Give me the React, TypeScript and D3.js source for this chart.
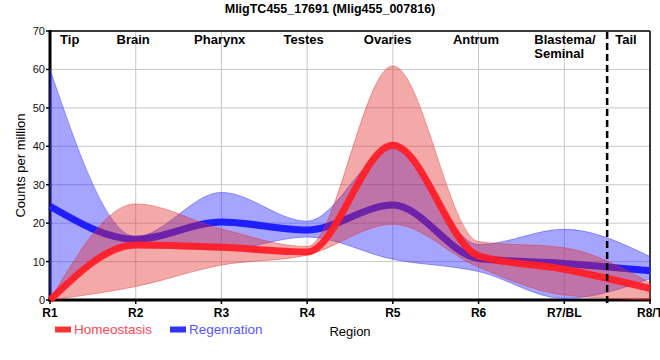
import React from 'react';
import * as d3 from 'd3';

// regions along the body axis
const regions = ['R1', 'R2', 'R3', 'R4', 'R5', 'R6', 'R7/BL', 'R8/T'];
const anatomy = ['Tip', 'Brain', 'Pharynx', 'Testes', 'Ovaries', 'Antrum', 'Blastema/|Seminal', 'Tail'];

// Homeostasis (counts per million)
const homeoMean = [0, 14.3, 13.7, 12.5, 40.3, 11.5, 8, 3];
const homeoLow = [0, 3.5, 9.1, 11.7, 19.7, 8.5, 1.3, 0];
const homeoHigh = [0, 25, 18.5, 13.9, 60.9, 15.2, 13.6, 4.5];

// Regenration (counts per million)
const regenMean = [24.4, 15.8, 20.3, 18.2, 24.7, 10.8, 9.5, 7.6];
const regenLow = [0, 14, 13, 16.4, 10.6, 7.4, 0.4, 5.5];
const regenHigh = [60, 16.5, 28, 20.5, 39.2, 14.4, 18.4, 11.3];

const yTicks = [0, 10, 20, 30, 40, 50, 60, 70];
const tailBoundary = 6.5;

const FONT = '"Liberation Sans", Arial, sans-serif';

export default function App() {
  const margin = { left: 50, right: 10, top: 31, bottom: 60 };
  const W = 660;
  const H = 360;

  const x = d3.scaleLinear().domain([0, regions.length - 1]).range([margin.left, W - margin.right]);
  const y = d3.scaleLinear().domain([0, 70]).range([H - margin.bottom, margin.top]);

  // label anchors, in region units
  const anatomyAt = [0.23, 0.97, 1.98, 2.96, 3.94, 4.97, 5.65, 6.72];

  const band = (lo: number[], hi: number[]) =>
    d3.area<number>()
      .x((_, i) => x(i))
      .y0((_, i) => y(lo[i]))
      .y1((_, i) => y(hi[i]))
      .curve(d3.curveMonotoneX)(lo) || '';

  const line = (vals: number[]) =>
    d3.line<number>()
      .x((_, i) => x(i))
      .y(d => y(d))
      .curve(d3.curveMonotoneX)(vals) || '';

  const x0 = x(0), x1 = x(regions.length - 1);
  const y0 = y(0), y1 = y(70);

  return (
    <svg width={W} height={H} style={{ position: 'absolute', left: 0, top: 0, background: '#fff' }} fontFamily={FONT}>
      <text x={330} y={13} textAnchor="middle" fontSize={12.5} fontWeight="bold">
        MligTC455_17691 (Mlig455_007816)
      </text>

      {/* grid */}
      {yTicks.slice(1).map(t => (
        <line key={'gy' + t} x1={x0} x2={x1} y1={y(t)} y2={y(t)} stroke="#c8c8c8" strokeWidth={1} />
      ))}
      {regions.map((r, i) => (
        <line key={'gx' + r} x1={x(i)} x2={x(i)} y1={y0} y2={y1} stroke="#c8c8c8" strokeWidth={1} />
      ))}

      {/* frame */}
      <line x1={x0} x2={x1} y1={y1} y2={y1} stroke="#000" strokeWidth={1.5} />
      <line x1={x1} x2={x1} y1={y1} y2={y0} stroke="#000" strokeWidth={1.5} />
      <line x1={x0} x2={x0} y1={y1 - 1} y2={y0 + 1.5} stroke="#000" strokeWidth={3} />
      <line x1={x0 - 1.5} x2={x1 + 1} y1={y0} y2={y0} stroke="#000" strokeWidth={3} />

      {/* y axis */}
      {yTicks.map(t => (
        <g key={'ty' + t}>
          <line x1={x0 - 4} x2={x0} y1={y(t)} y2={y(t)} stroke="#000" strokeWidth={1.5} />
          <text x={x0 - 5} y={y(t) + 4} textAnchor="end" fontSize={11} fill="#111">{t}</text>
        </g>
      ))}
      <text transform={`translate(25,${(y0 + y1) / 2}) rotate(-90)`} textAnchor="middle" fontSize={13}>
        Counts per million
      </text>

      {/* x axis */}
      {regions.map((r, i) => (
        <g key={'tx' + r}>
          <line x1={x(i)} x2={x(i)} y1={y0} y2={y0 + 4} stroke="#000" strokeWidth={1.5} />
          <text x={x(i)} y={317} textAnchor="middle" fontSize={12} fontWeight="bold">{r}</text>
        </g>
      ))}
      <text x={350} y={336} textAnchor="middle" fontSize={13}>Region</text>

      {/* series */}
      <path d={band(regenLow, regenHigh)} fill="rgba(30,30,255,0.4)" stroke="rgba(60,60,255,0.5)" strokeWidth={1} />
      <path d={line(regenMean)} fill="none" stroke="#1f1fff" strokeWidth={7} />
      <path d={band(homeoLow, homeoHigh)} fill="rgba(228,40,40,0.4)" stroke="rgba(220,50,50,0.45)" strokeWidth={1} />
      <path d={line(homeoMean)} fill="none" stroke="#ff1f28" strokeWidth={7} strokeOpacity={0.95} />

      {/* tail boundary */}
      <line x1={x(tailBoundary)} x2={x(tailBoundary)} y1={y1 + 1} y2={y0 + 4} stroke="#000" strokeWidth={2.5} strokeDasharray="7,4" />

      {/* anatomy labels */}
      {anatomy.map((a, i) => {
        const parts = a.split('|');
        const anchor = parts.length > 1 ? 'start' : 'middle';
        return (
          <text key={a} x={x(anatomyAt[i])} y={44} textAnchor={anchor} fontSize={13} fontWeight="bold">
            {parts.map((p, k) => (
              <tspan key={p} x={x(anatomyAt[i])} dy={k === 0 ? 0 : 14}>{p}</tspan>
            ))}
          </text>
        );
      })}

      {/* legend */}
      <rect x={55} y={326.5} width={16} height={6} fill="#ff3333" />
      <text x={74} y={334} fontSize={13.5} fill="#ff4455">Homeostasis</text>
      <rect x={170} y={326.5} width={16} height={6} fill="#3333ff" />
      <text x={189} y={334} fontSize={13.5} fill="#5555ff">Regenration</text>
    </svg>
  );
}
